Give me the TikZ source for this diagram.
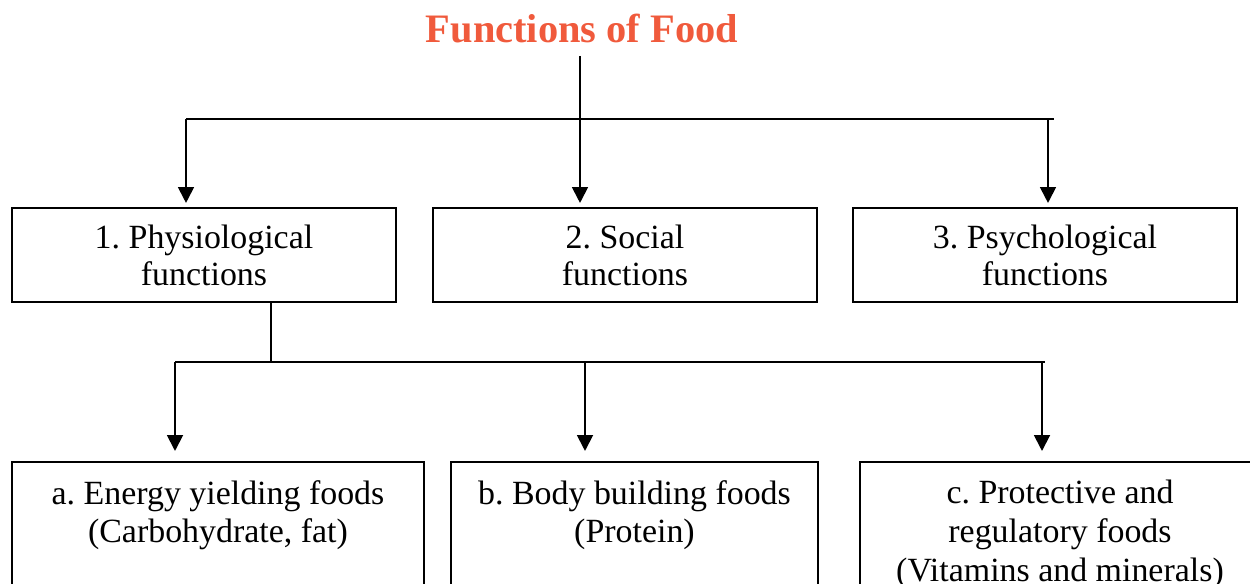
\documentclass[tikz,border=0pt]{standalone}
\usepackage{fontspec}
\setmainfont{Liberation Serif}
\usepackage{xcolor}
\usetikzlibrary{arrows.meta, positioning}
\definecolor{titlered}{RGB}{240,90,60}
\frenchspacing

\begin{document}
\begin{tikzpicture}[x=0.02cm, y=-0.02cm,
            head/.style={text=titlered, font=\fontsize{23}{28}\selectfont\bfseries, inner sep=6.8pt},
            box/.style={draw, line width=1.1pt, rectangle, anchor=north, minimum width=7.68cm, align=center, inner ysep=9pt, text height=35.3pt, text depth=0pt, font=\fontsize{19.3}{21.5}\selectfont},
            subbox/.style={draw, line width=1.1pt, rectangle, anchor=north, align=center, inner ysep=10.4pt, text depth=3cm, font=\fontsize{19.3}{22}\selectfont},
            link/.style={line width=1.1pt},
            pipe/.style={-{Triangle[length=9pt, width=9pt]}, line width=1.1pt}]

            \useasboundingbox (0,0) rectangle (1250,584);

            % title
            \node[head, anchor=base] (title) at (582,43) {Functions of Food};

            % first level
            \node[box] (phys) at (204,207) {1. Physiological\\functions};
            \node[box] (social) at (625,207) {2. Social\\functions};
            \node[box] (psych) at (1045,207) {3. Psychological\\functions};

            % second level
            \node[subbox, minimum width=8.24cm] (energy) at (218,461) {a. Energy yielding foods\\(Carbohydrate, fat)};
            \node[subbox, minimum width=7.34cm] (body) at (634.5,461) {b. Body building foods\\(Protein)};
            \node[subbox, minimum width=8cm] (protect) at (1060,461) {c. Protective and\\regulatory foods\\(Vitamins and minerals)};

            % branch points
            \coordinate (tl) at (186,119);
            \coordinate (tm) at (580,119);
            \coordinate (tr) at (1054,119);
            \coordinate (t3) at (1048,119);
            \coordinate (pj) at (271,362);
            \coordinate (bl) at (175,362);
            \coordinate (bm) at (585,362);
            \coordinate (br) at (1045,362);
            \coordinate (b3) at (1042,362);

            % connections
            \draw[link] (tm |- title.south) -- (tm);
            \draw[link] (tl) -- (tr);
            \draw[pipe, shorten >=2.3pt] (tl) -- (tl |- phys.north);
            \draw[pipe, shorten >=2.3pt] (tm) -- (tm |- social.north);
            \draw[pipe, shorten >=2.3pt] (t3) -- (t3 |- psych.north);

            \draw[link] (pj |- phys.south) -- (pj);
            \draw[link] (bl) -- (br);
            \draw[pipe, shorten >=5.7pt] (bl) -- (bl |- energy.north);
            \draw[pipe, shorten >=5.7pt] (bm) -- (bm |- body.north);
            \draw[pipe, shorten >=5.7pt] (b3) -- (b3 |- protect.north);
        \end{tikzpicture}
\end{document}
